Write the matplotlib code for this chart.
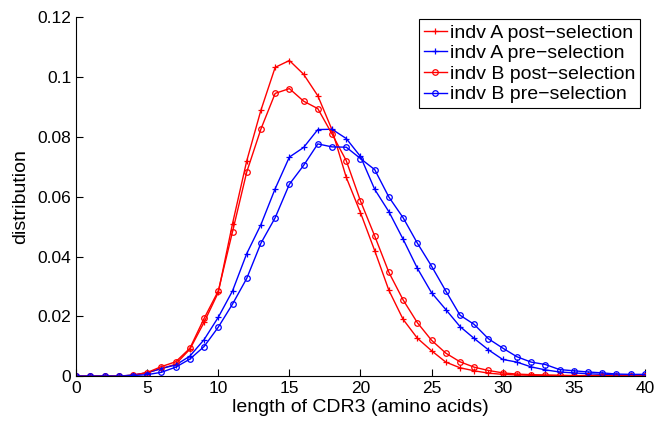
import numpy as np
import matplotlib
matplotlib.use("Agg")
import matplotlib.pyplot as plt

plt.rcParams['font.family'] = ['Liberation Sans', 'DejaVu Sans']

# CDR3 length (amino acids)
lengths = np.arange(0, 41)

a_post = [0, 0, 0, 0, 0.0003, 0.0012, 0.0025, 0.004, 0.009, 0.018,
          0.028, 0.051, 0.072, 0.089, 0.1033, 0.1056, 0.101, 0.0938, 0.0824, 0.0665,
          0.0547, 0.042, 0.0287, 0.019, 0.0127, 0.0085, 0.0047, 0.0028, 0.0018, 0.001,
          0.0006, 0.0004, 0.0003, 0.0002, 0.0002, 0.0001, 0.0001, 0.0001, 0.0001, 0.0001, 0.0001]

a_pre = [0, 0, 0, 0, 0.0004, 0.0011, 0.0026, 0.0037, 0.0067, 0.0122,
         0.0197, 0.0285, 0.041, 0.0507, 0.0627, 0.0733, 0.0765, 0.0825, 0.0826, 0.0795,
         0.0735, 0.0625, 0.055, 0.0458, 0.0361, 0.0279, 0.0223, 0.0166, 0.0126, 0.0088,
         0.0056, 0.0047, 0.0031, 0.0021, 0.0014, 0.0011, 0.0008, 0.0006, 0.0004, 0.0003, 0.0003]

b_post = [0, 0, 0, 0, 0.0003, 0.0012, 0.0032, 0.0048, 0.0093, 0.0193,
          0.0285, 0.0483, 0.0683, 0.0827, 0.0946, 0.0962, 0.092, 0.0895, 0.081, 0.0721,
          0.0586, 0.0469, 0.0347, 0.0255, 0.0179, 0.012, 0.0077, 0.0048, 0.003, 0.0019,
          0.0011, 0.0007, 0.0005, 0.0004, 0.0003, 0.0002, 0.0002, 0.0002, 0.0001, 0.0001, 0.0001]

b_pre = [0, 0, 0, 0, 0.0002, 0.0005, 0.0013, 0.003, 0.0057, 0.0099,
         0.0164, 0.0241, 0.0327, 0.0445, 0.053, 0.0642, 0.0705, 0.0777, 0.0767, 0.0766,
         0.0728, 0.0691, 0.0599, 0.053, 0.0445, 0.0368, 0.0285, 0.0204, 0.0173, 0.0125,
         0.0094, 0.0065, 0.0047, 0.0039, 0.0022, 0.0018, 0.0014, 0.0011, 0.0007, 0.0006, 0.0006]

fig = plt.figure(figsize=(6.56, 4.26), dpi=100)
ax = fig.add_axes([0.116, 0.117, 0.867, 0.842])

ax.plot(lengths, a_post, '-+', color='red', lw=1, ms=4.5, mew=0.9, label='indv A post\u2212selection')
ax.plot(lengths, a_pre, '-+', color='blue', lw=1, ms=4.5, mew=0.9, label='indv A pre\u2212selection')
ax.plot(lengths, b_post, '-o', color='red', lw=1, ms=4, mew=0.9, mfc='none', label='indv B post\u2212selection')
ax.plot(lengths, b_pre, '-o', color='blue', lw=1, ms=4, mew=0.9, mfc='none', label='indv B pre\u2212selection')

ax.set_xlim(0, 40)
ax.set_ylim(0, 0.12)
ax.set_xticks(np.arange(0, 41, 5))
ax.set_yticks([0, 0.02, 0.04, 0.06, 0.08, 0.1, 0.12])
ax.set_yticklabels(['0', '0.02', '0.04', '0.06', '0.08', '0.1', '0.12'])
ax.tick_params(direction='in', length=5, width=0.8, labelsize=12.5)
ax.spines['top'].set_visible(False)
ax.spines['right'].set_visible(False)

ax.set_xlabel('length of CDR3 (amino acids)', fontsize=14, labelpad=2)
ax.set_ylabel('distribution', fontsize=14, labelpad=6)

leg = ax.legend(loc='upper right', bbox_to_anchor=(0.992, 0.995), borderaxespad=0,
                fontsize=14, numpoints=1, handlelength=1.2, handletextpad=0.15,
                labelspacing=0.15, borderpad=0.25, fancybox=False, framealpha=1)
leg.get_frame().set_edgecolor('black')
leg.get_frame().set_linewidth(0.8)

fig.savefig('out.png', dpi=100)
